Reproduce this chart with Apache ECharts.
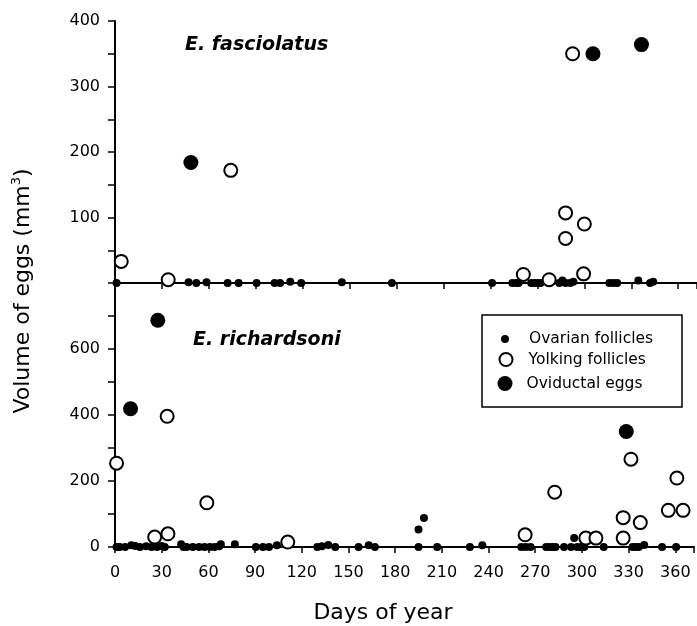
<!DOCTYPE html>
<html>
<head>
<meta charset="utf-8">
<script src="https://cdn.jsdelivr.net/npm/echarts@6/dist/echarts.min.js"></script>
<style>html,body{margin:0;padding:0;background:#fff}#c{width:697px;height:626px}</style>
</head>
<body>
<div id="c"></div>
<script>
// ---- data: [day of year, volume mm^3] ----
var topOvarian = [[1,0],[47,1],[52,0],[58.5,1],[72,0],[79,0],[90.5,0],[102,0],[105.5,0],[112,2],[119,0],[145,1],[177,0],[241,0],[254,0],[256.5,0],[258,0],[266,0],[268,0],[270,0],[272,0],[284,0],[286,4],[288,0],[291,0],[293,2],[316,0],[318.5,0],[321,0],[334.5,4],[342,0],[344,2]];
var topYolking = [[4,33],[34,5],[74,172],[261,13],[277.5,5],[288,107],[288,68],[300,90],[299.5,14],[292.5,350]];
var topOviductal = [[48.5,184],[305.5,350],[336.5,364]];

var botOvarian = [[1,0],[3,0],[6.5,0],[10.5,5],[13,3],[16,0],[20,2],[23.5,0],[27,0],[30,3],[32,0],[42.5,8],[44,0],[46,0],[50,0],[54,0],[57.5,0],[61,0],[64,0],[67,2],[68,8],[77,8],[90.5,0],[95,0],[99,0],[104,5],[130,0],[133,2],[137,6],[141.5,0],[156.5,0],[163,5],[167,0],[195,53],[198.5,88],[195,0],[207,0],[228,0],[236,5],[261,0],[264,0],[267,0],[277,0],[279,0],[281,0],[283,0],[288.5,0],[293,0],[295,27],[297,0],[299.5,0],[301.5,0],[314,0],[332.5,0],[334.5,0],[336.5,0],[340,6],[351.5,0],[360.5,0]];
var botYolking = [[1,254],[25.5,30],[34,40],[33.5,396],[59,134],[111,15],[263.5,37],[282.5,166],[302.5,27],[309,27],[326.5,89],[326.5,27],[331.5,266],[337.5,74],[355.5,111],[365,111],[361,209]];
var botOviductal = [[10,419],[27.5,687],[328.5,350]];

var xTicks = [0,30,60,90,120,150,180,210,240,270,300,330,360];
var topYLabels = [100,200,300,400];
var botYLabels = [0,200,400,600];

var FONT = 'DejaVu Sans';
var chart = echarts.init(document.getElementById('c'), null, {renderer:'canvas'});

function xAxis(gi, showLabels){
  return {
    type:'value', gridIndex:gi, min:0, max:372, interval:30,
    axisLine:{show:true, onZero:false, lineStyle:{color:'#000', width:2}},
    axisTick:{show:true, inside:false, length:6, lineStyle:{color:'#000', width:1.5}},
    axisLabel:{show:showLabels, margin:18, color:'#000', fontFamily:FONT, fontSize:16,
      formatter:function(v){ return xTicks.indexOf(v) >= 0 ? String(v) : ''; }},
    splitLine:{show:false}
  };
}
function yAxis(gi, max, step, labels){
  return {
    type:'value', gridIndex:gi, min:0, max:max, interval:step,
    axisLine:{show:true, onZero:false, lineStyle:{color:'#000', width:2}},
    axisTick:{show:true, inside:false, length:7, lineStyle:{color:'#000', width:1.5}},
    axisLabel:{margin:15, color:'#000', fontFamily:FONT, fontSize:16,
      formatter:function(v){ return labels.indexOf(v) >= 0 ? String(v) : ''; }},
    splitLine:{show:false}
  };
}
var smallStyle = {color:'#000', opacity:1};
var openStyle = {color:'#fff', borderColor:'#000', borderWidth:2, opacity:1};
var bigStyle = {color:'#000', opacity:1};

function ser(name, gi, data, size, style, z){
  return {name:name, type:'scatter', xAxisIndex:gi, yAxisIndex:gi, data:data,
    symbol:'circle', symbolSize:size, itemStyle:style, z:z, silent:true, animation:false};
}

function legendItem(name, top, d, style, pad){
  return {
    data:[{name:name, icon:'circle', itemStyle:style}],
    left:505 - d/2, top:top - d/2, itemWidth:d, itemHeight:d, padding:0,
    selectedMode:false, z:10,
    textStyle:{fontFamily:FONT, fontSize:15.5, color:'#000', padding:[0,0,0,pad]}
  };
}

chart.setOption({
  animation:false,
  backgroundColor:'#fff',
  grid:[
    {left:115, top:21, width:582, height:262},
    {left:115, top:283, width:582, height:264}
  ],
  xAxis:[xAxis(0,false), xAxis(1,true)],
  yAxis:[yAxis(0,400,50,topYLabels), yAxis(1,800,100,botYLabels)],
  legend:[
    legendItem('Ovarian follicles', 335, 8, {color:'#000', opacity:1}, 15),
    legendItem('Yolking follicles', 358, 13, {color:'#fff', borderColor:'#000', borderWidth:2, opacity:1}, 11),
    legendItem('Oviductal eggs', 383, 15, {color:'#000', opacity:1}, 9)
  ],
  graphic:[
    {type:'rect', z:5, shape:{x:482, y:315, width:200, height:92},
     style:{fill:'#fff', stroke:'#000', lineWidth:1.5}},
    {type:'text', z:5, x:185, y:45,
     style:{text:'E. fasciolatus', fontFamily:FONT, fontSize:19, fontWeight:'bold', fontStyle:'italic',
            fill:'#000', textVerticalAlign:'middle', verticalAlign:'middle'}},
    {type:'text', z:5, x:193, y:340,
     style:{text:'E. richardsoni', fontFamily:FONT, fontSize:19, fontWeight:'bold', fontStyle:'italic',
            fill:'#000', textVerticalAlign:'middle', verticalAlign:'middle'}},
    {type:'text', z:5, x:383, y:613,
     style:{text:'Days of year', fontFamily:FONT, fontSize:22, fill:'#000',
            align:'center', verticalAlign:'middle', textAlign:'center', textVerticalAlign:'middle'}},
    {type:'text', z:5, x:23, y:291, rotation:Math.PI/2,
     style:{text:'{a|Volume of eggs (mm}{s|3}{a|)}', fill:'#000',
            align:'center', verticalAlign:'middle', textAlign:'center', textVerticalAlign:'middle',
            rich:{a:{fontFamily:FONT, fontSize:22, lineHeight:26, fill:'#000'},
                  s:{fontFamily:FONT, fontSize:13, lineHeight:26, verticalAlign:'top', fill:'#000'}}}}
  ],
  series:[
    ser('Ovarian follicles', 0, topOvarian, 8, smallStyle, 2),
    ser('Yolking follicles', 0, topYolking, 13, openStyle, 3),
    ser('Oviductal eggs', 0, topOviductal, 15, bigStyle, 4),
    ser('Ovarian follicles', 1, botOvarian, 8, smallStyle, 2),
    ser('Yolking follicles', 1, botYolking, 13, openStyle, 3),
    ser('Oviductal eggs', 1, botOviductal, 15, bigStyle, 4)
  ]
});
</script>
</body>
</html>
